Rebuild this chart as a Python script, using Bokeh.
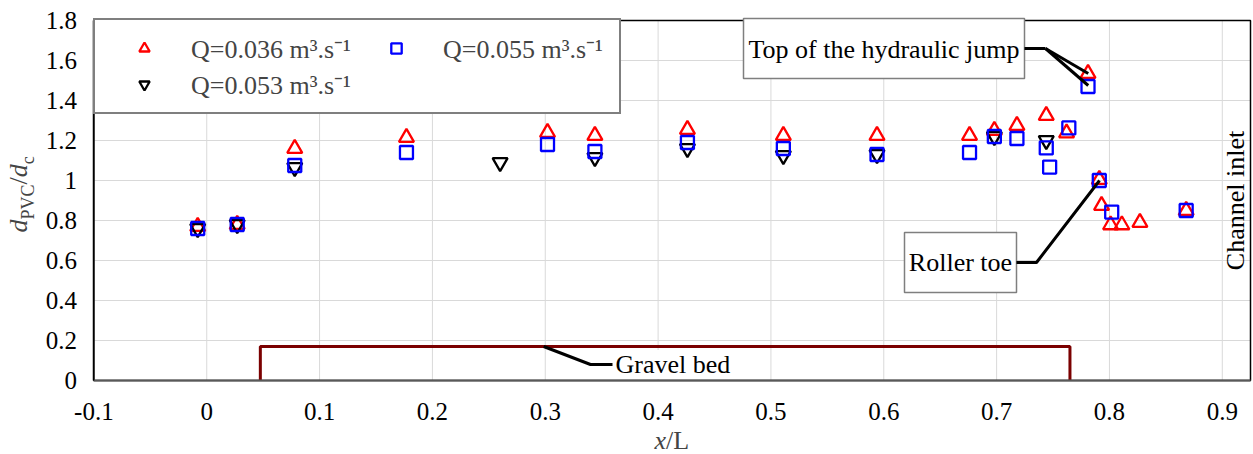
import math
from bokeh.plotting import figure
from bokeh.models import (Legend, LegendItem, Label, FixedTicker,
                          CustomJSTickFormatter, Range1d)
from bokeh.embed import file_html
from bokeh.resources import INLINE

FONT = "Liberation Serif"

# ---- data -------------------------------------------------------------
# Q = 0.036 m3/s (red up-triangles)
x_036 = [-0.008, 0.027, 0.078, 0.177, 0.302, 0.344, 0.426, 0.511, 0.594, 0.676,
         0.698, 0.718, 0.744, 0.762, 0.781, 0.791, 0.793, 0.801, 0.811, 0.827, 0.868]
y_036 = [0.77, 0.78, 1.16, 1.215, 1.24, 1.225, 1.255, 1.225, 1.225, 1.225,
         1.25, 1.275, 1.325, 1.237, 1.535, 1.005, 0.875, 0.778, 0.778, 0.79, 0.85]

# Q = 0.053 m3/s (black down-triangles)
x_053 = [-0.008, 0.027, 0.078, 0.260, 0.344, 0.426, 0.511, 0.594, 0.698, 0.744]
y_053 = [0.76, 0.78, 1.065, 1.09, 1.115, 1.16, 1.125, 1.13, 1.22, 1.20]

# Q = 0.055 m3/s (blue squares)
x_055 = [-0.008, 0.027, 0.078, 0.177, 0.302, 0.344, 0.426, 0.511, 0.594, 0.676,
         0.698, 0.718, 0.744, 0.747, 0.764, 0.781, 0.791, 0.802, 0.868]
y_055 = [0.76, 0.78, 1.075, 1.14, 1.18, 1.145, 1.19, 1.16, 1.13, 1.14,
         1.22, 1.21, 1.163, 1.067, 1.263, 1.47, 1.0, 0.842, 0.85]

labels = ["Q=0.036 m³.s⁻¹", "Q=0.053 m³.s⁻¹", "Q=0.055 m³.s⁻¹"]

# gravel bed outline
gravel_x = [0.0475, 0.0475, 0.765, 0.765]
gravel_y = [0.0, 0.17, 0.17, 0.0]

x_ticks = [-0.1, 0.0, 0.1, 0.2, 0.3, 0.4, 0.5, 0.6, 0.7, 0.8, 0.9]
y_ticks = [0.0, 0.2, 0.4, 0.6, 0.8, 1.0, 1.2, 1.4, 1.6, 1.8]

# plot-area limits
X_LO, X_HI = -0.1, 0.925
Y_LO, Y_HI = 0.0, 1.8

# ---- layout constants (pixels) ------------------------------------------
W, H = 1253, 454
PAD_L, PAD_R, PAD_T, PAD_B = 93.4, 3.0, 20.0, 74.0
KX = (W - PAD_L - PAD_R) / (X_HI - X_LO)     # px per x unit
KY = (H - PAD_T - PAD_B) / (Y_HI - Y_LO)     # px per y unit


def dx(px):
    """pixel column -> x data value"""
    return X_LO + (px - PAD_L) / KX


def dy(py):
    """pixel row -> y data value"""
    return Y_LO + (H - PAD_B - py) / KY


# the frame covers the whole canvas; axes are pinned at the plot-area edges
p = figure(width=W, height=H,
           x_range=Range1d(dx(0), dx(W)), y_range=Range1d(dy(H), dy(0)),
           output_backend="svg", toolbar_location=None,
           min_border=0, min_border_left=0, min_border_right=0,
           min_border_top=0, min_border_bottom=0)
p.title.visible = False
p.background_fill_color = "white"
p.border_fill_color = "white"
p.outline_line_color = None
p.grid.visible = False

fmt = CustomJSTickFormatter(code="return String(Math.round(tick*10)/10);")
p.xaxis.ticker = FixedTicker(ticks=x_ticks)
p.yaxis.ticker = FixedTicker(ticks=y_ticks)
p.xaxis.formatter = fmt
p.yaxis.formatter = fmt
p.xaxis.fixed_location = Y_LO
p.yaxis.fixed_location = X_LO
p.xaxis.bounds = (X_LO, X_HI)
p.yaxis.bounds = (Y_LO, Y_HI)
for ax in (p.xaxis, p.yaxis):
    ax.major_tick_line_color = None
    ax.minor_tick_line_color = None
    ax.major_label_text_font = FONT
    ax.major_label_text_font_size = "25px"
    ax.major_label_text_color = "black"
p.xaxis.major_label_standoff = 16
p.yaxis.major_label_standoff = 11
p.xaxis.axis_line_color = "#595959"
p.xaxis.axis_line_width = 2
p.yaxis.axis_line_color = "black"
p.yaxis.axis_line_width = 1.5

# grid lines at the tick positions, limited to the plot area
p.segment(x0=x_ticks, y0=[Y_LO] * len(x_ticks), x1=x_ticks, y1=[Y_HI] * len(x_ticks),
          line_color="#D9D9D9", line_width=1)
p.segment(x0=[X_LO] * len(y_ticks), y0=y_ticks, x1=[X_HI] * len(y_ticks), y1=y_ticks,
          line_color="#D9D9D9", line_width=1)

# plot-area border
p.quad(left=[X_LO], right=[X_HI], bottom=[Y_LO], top=[Y_HI],
       fill_color=None, line_color="black", line_width=1.5)

# gravel bed
p.line(gravel_x, gravel_y, line_color="#7B0000", line_width=3)

# data
r1 = p.scatter(x_036, y_036, marker="triangle", size=15, line_color="#FF0000",
               fill_color=None, line_width=2.3)
r2 = p.scatter(x_053, y_053, marker="inverted_triangle", size=15, line_color="black",
               fill_color=None, line_width=2.3)
r3 = p.scatter(x_055, y_055, marker="square", size=13, line_color="#0000FF",
               fill_color=None, line_width=2.3)

# ---- callouts -------------------------------------------------------------
p.quad(left=[dx(743), dx(904)], right=[dx(1024), dx(1016)],
       bottom=[dy(78), dy(292)], top=[dy(18), dy(232)],
       fill_color="white", fill_alpha=1, line_color="#7F7F7F", line_width=1.5)

p.line([dx(1024), dx(1045)], [dy(48), dy(48)], line_color="black", line_width=3)
p.line([dx(1045), 0.7812], [dy(48), 1.535], line_color="black", line_width=3)
p.line([dx(1045), 0.7812], [dy(48), 1.475], line_color="black", line_width=3)
p.line([dx(1016), dx(1036), 0.7912], [dy(262), dy(262), 1.0], line_color="black", line_width=3)
p.line([0.2986, dx(590), dx(612)], [0.17, dy(364), dy(364)], line_color="black", line_width=3)

p.add_layout(Label(x=dx(883.5), y=dy(49), text="Top of the hydraulic jump",
                   text_align="center", text_baseline="middle",
                   text_font=FONT, text_font_size="26px", text_color="black"))
p.add_layout(Label(x=dx(960), y=dy(262), text="Roller toe",
                   text_align="center", text_baseline="middle",
                   text_font=FONT, text_font_size="26px", text_color="black"))
p.add_layout(Label(x=dx(615), y=dy(364), text="Gravel bed",
                   text_align="left", text_baseline="middle",
                   text_font=FONT, text_font_size="26px", text_color="black",
                   background_fill_color="white", background_fill_alpha=1))
p.add_layout(Label(x=dx(1235), y=dy(200), text="Channel inlet", angle=math.pi / 2,
                   text_align="center", text_baseline="middle",
                   text_font=FONT, text_font_size="26px", text_color="black"))

# ---- axis titles (anchored at the middle of each piece) --------------------------
p.add_layout(Label(x=dx(654), y=dy(439.5), text="x", text_font=FONT,
                   text_font_style="italic", text_font_size="26px",
                   text_baseline="middle", text_align="left"))
p.add_layout(Label(x=dx(665.5), y=dy(439.5), text="/L", text_font=FONT,
                   text_font_size="26px",
                   text_baseline="middle", text_align="left"))

# rotated y title d_PVC / d_c : (text, centre column, centre row, style, size)
ypieces = [("d", 17.5, 225.5, "italic", "26px"),
           ("PVC", 27.5, 201.5, "normal", "18px"),
           ("/", 17.5, 180.4, "normal", "26px"),
           ("d", 17.5, 170.3, "italic", "26px"),
           ("c", 27.5, 159.8, "normal", "18px")]
for txt, px, py, style, fs in ypieces:
    p.add_layout(Label(x=dx(px), y=dy(py), text=txt, angle=math.pi / 2,
                       text_font=FONT, text_font_style=style, text_font_size=fs,
                       text_baseline="middle", text_align="center"))

# ---- legend -----------------------------------------------------------------------
LEG_BOTTOM = 113.5
items = [LegendItem(label=labels[0], renderers=[r1]),
         LegendItem(label=labels[1], renderers=[r2]),
         LegendItem(label=labels[2], renderers=[r3])]
common = dict(location=(93, int(round(H - LEG_BOTTOM))), ncols=2,
              orientation="vertical", margin=0,
              label_text_font=FONT, label_text_font_size="26px",
              border_line_color="black", border_line_width=2,
              background_fill_color="white", background_fill_alpha=1)
try:
    legend = Legend(items=items, glyph_width=78, glyph_height=26, label_standoff=8,
                    label_width=166, label_height=26, padding=10, spacing=-6, **common)
except Exception:
    legend = Legend(items=items, glyph_width=78, glyph_height=26, label_standoff=8,
                    label_width=166, label_height=26, padding=10, spacing=0, **common)
p.add_layout(legend)

open("out.html", "w").write(file_html(p, INLINE))
